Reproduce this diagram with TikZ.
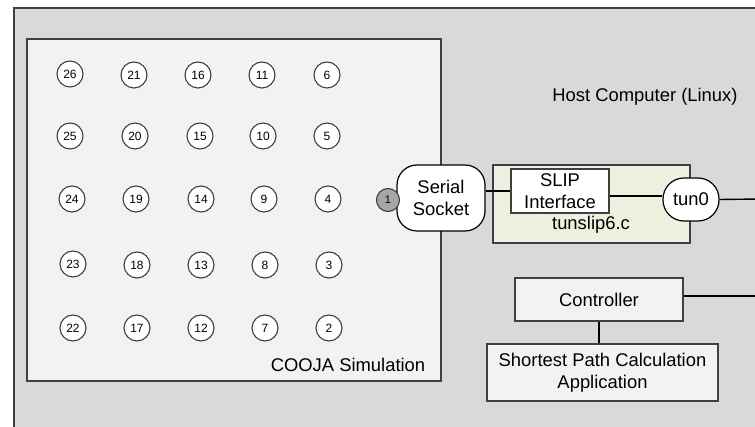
\documentclass[tikz,border=0pt]{standalone}
\usepackage{fontspec}
\setmainfont{Liberation Sans}
\definecolor{hostfill}{HTML}{D9D9D9}
\definecolor{simfill}{HTML}{F2F2F2}
\definecolor{edgegrey}{HTML}{404040}
\definecolor{tunfill}{HTML}{EBF1DE}
\definecolor{portfill}{HTML}{A6A6A6}
\tikzset{
  mote/.style={circle, draw=edgegrey, line width=1.1pt, fill=white, minimum size=26pt, inner sep=0pt, font=\fontsize{12}{12}\selectfont},
  label18/.style={font=\fontsize{18.4}{21.5}\selectfont, align=center, inner sep=0pt},
  plainbox/.style={draw=edgegrey, line width=1.1pt, label18},
  wire/.style={draw=black, line width=1.4pt},
}
\begin{document}
\begin{tikzpicture}[x=1pt, y=-1pt]
\useasboundingbox (0,0) rectangle (755,427);
\clip (0,0) rectangle (755,427);
% host computer frame
\draw[fill=hostfill, draw=edgegrey, line width=1.2pt] (14,8) rectangle (780,450);
\node[label18] (host) at (645,97) {Host Computer (Linux)};
% COOJA simulation frame
\draw[fill=simfill, draw=edgegrey, line width=1.2pt] (27,39) rectangle (441,381);
\node[label18] (cooja) at (348,365) {COOJA Simulation};
% simulated motes
\node[mote] (m26) at (70,74) {26};
\node[mote] (m21) at (134,75) {21};
\node[mote] (m16) at (198,75) {16};
\node[mote] (m11) at (262,75) {11};
\node[mote] (m6)  at (327,75) {6};
\node[mote] (m25) at (70,136) {25};
\node[mote] (m20) at (135,136) {20};
\node[mote] (m15) at (200,136) {15};
\node[mote] (m10) at (263,136) {10};
\node[mote] (m5)  at (327,136) {5};
\node[mote] (m24) at (72,199) {24};
\node[mote] (m19) at (136,199) {19};
\node[mote] (m14) at (201,199) {14};
\node[mote] (m9)  at (264,199) {9};
\node[mote] (m4)  at (328,199) {4};
\node[mote] (m23) at (73,264) {23};
\node[mote] (m18) at (137,265) {18};
\node[mote] (m13) at (201,265) {13};
\node[mote] (m8)  at (265,265) {8};
\node[mote] (m3)  at (329,265) {3};
\node[mote] (m22) at (73,328) {22};
\node[mote] (m17) at (137,328) {17};
\node[mote] (m12) at (201,328) {12};
\node[mote] (m7)  at (265,328) {7};
\node[mote] (m2)  at (329,328) {2};
% tunslip6 process
\node[draw=edgegrey, line width=1.1pt, fill=tunfill, minimum width=197pt, minimum height=78pt, inner sep=0pt] (tunslip) at (591.5,204) {};
\node[label18] (tunlabel) at (591,225) {tunslip6.c};
% serial socket and border router mote
\node[draw=black, line width=1.2pt, fill=white, rounded corners=20pt, minimum width=88pt, minimum height=66pt, label18] (serial) at (441,198) {Serial\\Socket};
\node[circle, draw=edgegrey, line width=1.1pt, fill=portfill, minimum size=23pt, inner sep=0pt, font=\fontsize{11}{12}\selectfont] (m1) at (388,200) {1};
\node[plainbox, fill=white, minimum width=98pt, minimum height=44pt] (slip) at (560,191) {SLIP\\Interface};
\node[draw=black, line width=1.2pt, fill=white, rounded corners=21pt, minimum width=56pt, minimum height=43pt, label18] (tun0) at (691,199.5) {tun0};
% controller and application
\node[plainbox, fill=simfill, minimum width=168pt, minimum height=43pt] (ctrl) at (599,299.5) {Controller};
\node[plainbox, fill=simfill, minimum width=231pt, minimum height=57pt] (spc) at (602.5,372.5) {Shortest Path Calculation\\Application};
\coordinate (outA) at (760,199);
\coordinate (outB) at (760,296);
% connections
\draw[wire] (serial.east |- slip.west) -- (slip.west);
\draw[wire] (slip.east |- 0,196) -- (tun0.west |- 0,196);
\draw[wire] (tun0.east) -- (outA);
\draw[wire] (ctrl.east |- outB) -- (outB);
\draw[wire] (ctrl.south) -- (ctrl.south |- spc.north);
\end{tikzpicture}
\end{document}
